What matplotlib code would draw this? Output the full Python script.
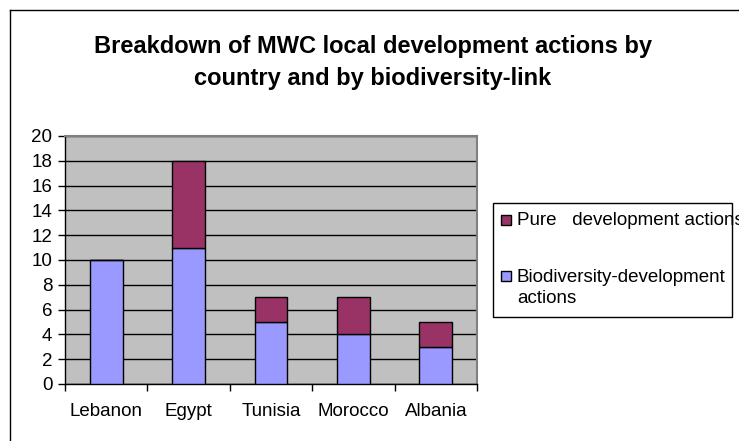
import numpy as np
import matplotlib
matplotlib.use('Agg')
import matplotlib.pyplot as plt
from matplotlib.patches import Rectangle
from matplotlib.lines import Line2D

plt.rcParams['font.family'] = ['Liberation Sans', 'DejaVu Sans']

countries = ['Lebanon', 'Egypt', 'Tunisia', 'Morocco', 'Albania']
biodiv_dev = [10, 11, 5, 4, 3]
pure_dev = [0, 7, 2, 3, 2]
yticks = list(range(0, 21, 2))

col_bio = '#9999FF'
col_pure = '#993366'

W, H = 739, 441
fig = plt.figure(figsize=(W / 100, H / 100), dpi=100)
fig.patch.set_facecolor('white')

# outer chart frame (right/bottom edges fall outside the image)
fig.add_artist(Line2D([10 / W, 1.0], [1 - 10 / H, 1 - 10 / H], color='black', lw=1))
fig.add_artist(Line2D([10 / W, 10 / W], [0, 1 - 10 / H], color='black', lw=1))

fig.text(373 / W, 1 - 47 / H, 'Breakdown of MWC local development actions by',
         ha='center', va='center', fontsize=17, fontweight='bold')
fig.text(373 / W, 1 - 79 / H, 'country and by biodiversity-link',
         ha='center', va='center', fontsize=17, fontweight='bold')

ax = fig.add_axes([65 / W, 1 - 384 / H, (477 - 65) / W, (384 - 136) / H])
ax.set_facecolor('#C0C0C0')

x = np.arange(len(countries))
ax.bar(x, biodiv_dev, width=0.4, color=col_bio, edgecolor='black', linewidth=1, zorder=3)
ax.bar(x, pure_dev, width=0.4, bottom=biodiv_dev, color=col_pure, edgecolor='black',
       linewidth=1, zorder=3)

ax.set_xlim(-0.5, len(countries) - 0.5)
ax.set_ylim(0, 20)
ax.set_yticks(yticks)
ax.tick_params(axis='y', labelsize=13.5, length=5, direction='out', width=1, pad=4)
ax.yaxis.grid(True, color='black', lw=1)
ax.set_axisbelow(True)

# category boundary ticks, labels centred under bars
ax.set_xticks(np.arange(len(countries) + 1) - 0.5)
ax.set_xticklabels([])
ax.set_xticks(x, minor=True)
ax.set_xticklabels(countries, minor=True)
ax.tick_params(axis='x', which='major', length=5, direction='out', width=1)
ax.tick_params(axis='x', which='minor', length=0, labelsize=13.5, pad=14)

for s in ['top', 'right']:
    ax.spines[s].set_color('#808080')
    ax.spines[s].set_linewidth(1.5)
for s in ['left', 'bottom']:
    ax.spines[s].set_color('black')
    ax.spines[s].set_linewidth(1)

# legend box
fig.add_artist(Rectangle((493 / W, 1 - 317 / H), (732 - 493) / W, (317 - 203) / H,
                         transform=fig.transFigure, facecolor='white', edgecolor='black', lw=1))
legend_rows = [(col_pure, 'Pure   development actions', 220, 220),
               (col_bio, 'Biodiversity-development\nactions', 288, 276)]
for color, label, yc, ym in legend_rows:
    fig.add_artist(Rectangle((501 / W, 1 - (ym + 5) / H), 10 / W, 10 / H,
                             transform=fig.transFigure, facecolor=color,
                             edgecolor='black', lw=1))
    fig.text(517 / W, 1 - yc / H, label, ha='left', va='center', fontsize=13.5,
             linespacing=1.3)

fig.savefig('out.png', dpi=100)
